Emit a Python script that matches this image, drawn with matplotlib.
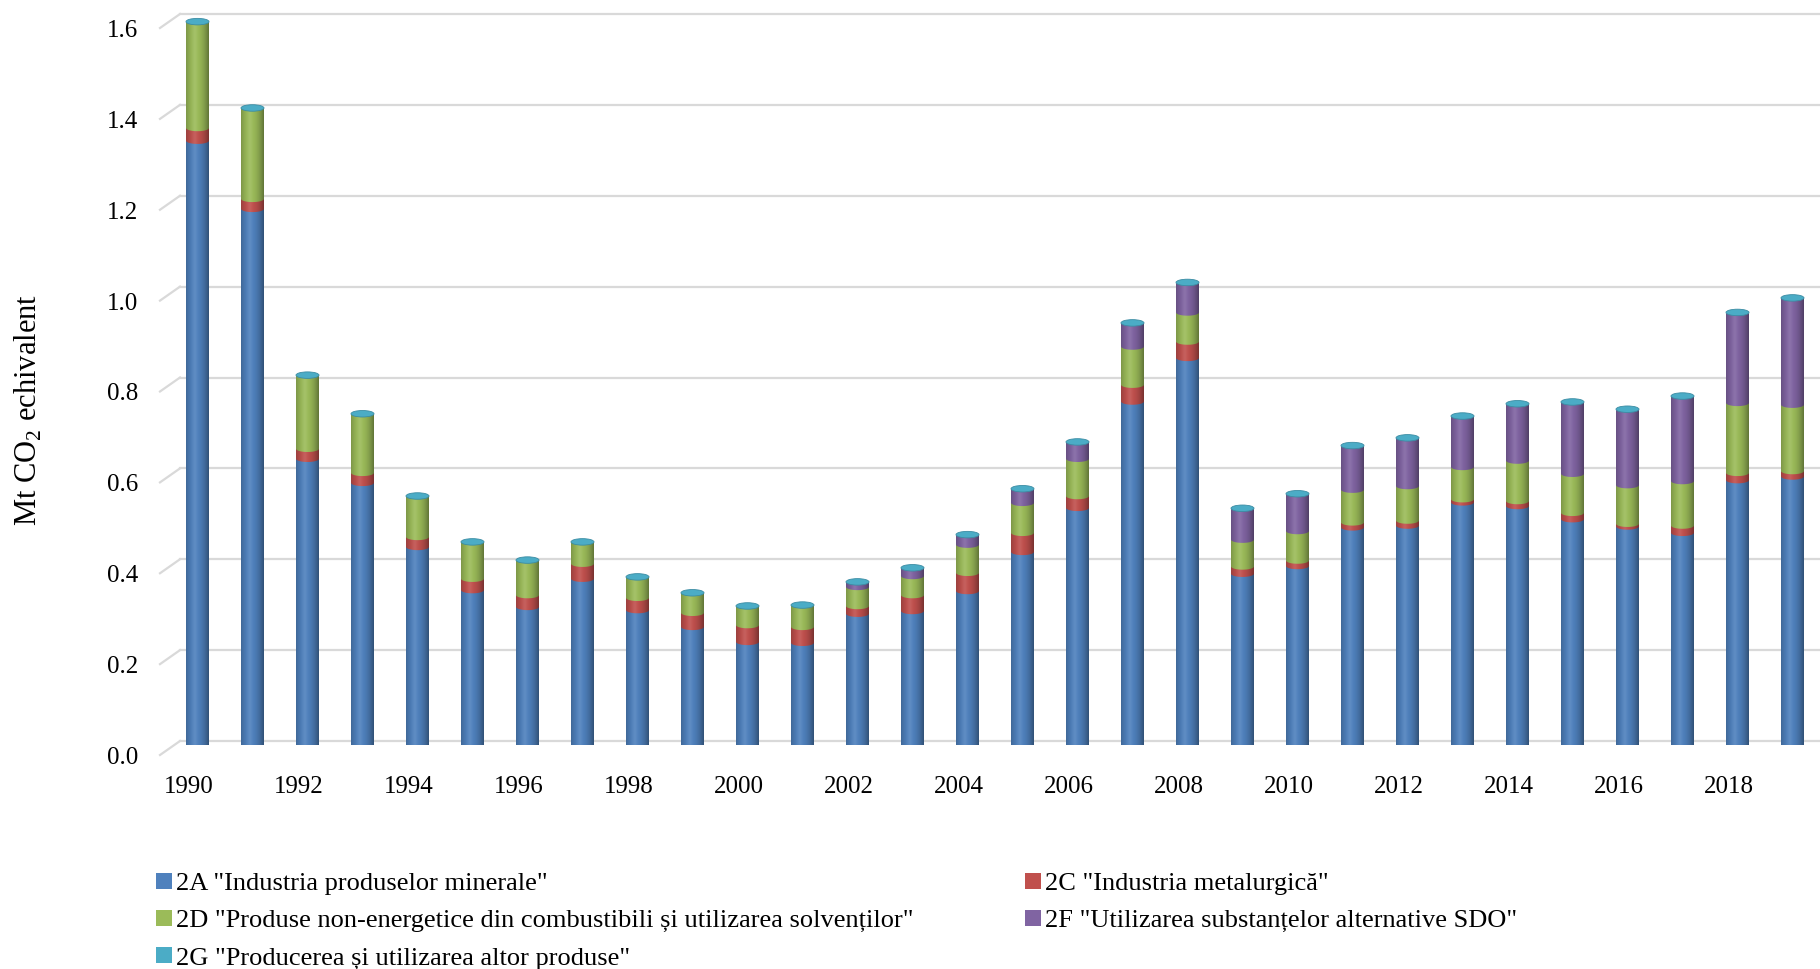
import numpy as np
import matplotlib
matplotlib.use("Agg")
import matplotlib.pyplot as plt
from matplotlib import transforms
from matplotlib.patches import Polygon, Ellipse, Patch
from matplotlib.lines import Line2D

plt.rcParams['font.family'] = ['Liberation Serif', 'DejaVu Serif']
plt.rcParams['mathtext.fontset'] = 'custom'
plt.rcParams['mathtext.rm'] = 'Liberation Serif'

# ---------------- data ----------------
years = list(range(1990, 2020))
s2A = [1.330, 1.180, 0.630, 0.577, 0.436, 0.341, 0.304, 0.366, 0.297, 0.260,
       0.227, 0.225, 0.289, 0.295, 0.339, 0.425, 0.522, 0.756, 0.852, 0.377,
       0.394, 0.479, 0.483, 0.534, 0.526, 0.497, 0.481, 0.467, 0.583, 0.591]
s2C = [0.028, 0.022, 0.022, 0.022, 0.022, 0.025, 0.026, 0.033, 0.027, 0.031,
       0.037, 0.035, 0.017, 0.035, 0.040, 0.042, 0.026, 0.037, 0.036, 0.016,
       0.012, 0.011, 0.011, 0.007, 0.011, 0.014, 0.006, 0.016, 0.016, 0.012]
s2D = [0.232, 0.198, 0.160, 0.128, 0.088, 0.079, 0.075, 0.046, 0.044, 0.042,
       0.040, 0.046, 0.042, 0.042, 0.062, 0.066, 0.082, 0.084, 0.064, 0.059,
       0.065, 0.072, 0.076, 0.071, 0.089, 0.086, 0.085, 0.098, 0.154, 0.146]
s2F = [0.000, 0.000, 0.000, 0.000, 0.000, 0.000, 0.000, 0.000, 0.000, 0.000,
       0.000, 0.000, 0.009, 0.016, 0.020, 0.029, 0.035, 0.050, 0.064, 0.067,
       0.080, 0.095, 0.104, 0.110, 0.123, 0.156, 0.165, 0.185, 0.197, 0.233]
s2G = [0.002, 0.002, 0.002, 0.002, 0.002, 0.002, 0.002, 0.002, 0.002, 0.002,
       0.002, 0.002, 0.002, 0.002, 0.002, 0.002, 0.002, 0.002, 0.002, 0.002,
       0.002, 0.002, 0.002, 0.002, 0.002, 0.002, 0.002, 0.002, 0.002, 0.002]

labels = ['2A "Industria produselor minerale"',
          '2C "Industria metalurgică"',
          '2D "Produse non-energetice din combustibili și utilizarea solvenților"',
          '2F "Utilizarea substanțelor alternative SDO"',
          '2G "Producerea și utilizarea altor produse"']
colors = ['#4F81BD', '#C0504D', '#9BBB59', '#8064A2', '#4BACC6']
series = [s2A, s2C, s2D, s2F, s2G]
yticks = [0.0, 0.2, 0.4, 0.6, 0.8, 1.0, 1.2, 1.4, 1.6]
xtick_years = list(range(1990, 2019, 2))

# ---------------- figure ----------------
W, H = 1820, 969
fig = plt.figure(figsize=(W / 100, H / 100), dpi=100)
ax_left, ax_right = 170, 1820
y0_px, y16_px = 745, 18
ax = fig.add_axes([ax_left / W, (H - y0_px) / H, (ax_right - ax_left) / W, (y0_px - y16_px) / H])
n = len(years)
ax.set_xlim(-0.5, n - 0.5)
ax.set_ylim(0, 1.6)
ax.axis('off')

px_per_unit = (y0_px - y16_px) / 1.6
bw = 23 / ((ax_right - ax_left) / n)   # bar width in data units
eh = 6.5 / px_per_unit                 # ellipse height in data units

blend = transforms.blended_transform_factory(ax.transAxes, ax.transData)
grid_tr = transforms.offset_copy(blend, fig=fig, x=0, y=4, units='dots')
dpx = 1.0 / (ax_right - ax_left)

# gridlines (back wall) + floor diagonals on the left side wall
for v in yticks:
    ax.add_line(Line2D([10 * dpx, 1.0], [v, v], transform=grid_tr, color='#D9D9D9',
                       lw=1.6, zorder=0, clip_on=False))
    p_back = grid_tr.transform((10 * dpx, v))
    p_front = blend.transform((-10 * dpx, v)) + np.array([0, -10])
    fig.add_artist(Line2D([p_back[0], p_front[0]], [p_back[1], p_front[1]],
                          transform=transforms.IdentityTransform(), color='#D9D9D9', lw=1.6,
                          zorder=0))

# y tick labels
lab_tr = transforms.offset_copy(blend, fig=fig, x=0, y=-13, units='dots')
for v in yticks:
    ax.text(-32 * dpx, v, f'{v:.1f}', transform=lab_tr, ha='right', va='center', fontsize=18)

# x tick labels
xl_tr = transforms.offset_copy(ax.transData, fig=fig, x=-9, y=-42, units='dots')
for yr in xtick_years:
    ax.text(years.index(yr), 0, str(yr), transform=xl_tr, ha='center', va='center', fontsize=18)


def seg_poly(xc, ya, yb, w, h, npts=40):
    th = np.linspace(np.pi, 2 * np.pi, npts)
    arc_x = xc + (w / 2) * np.cos(th)
    arc_y = ya + (h / 2) * np.sin(th)
    xs = np.concatenate([[xc - w / 2], arc_x, [xc + w / 2, xc + w / 2, xc - w / 2]])
    ys = np.concatenate([[yb], arc_y, [ya, yb, yb]])
    return np.column_stack([xs, ys])


# gradient for cylinder shading (overlay with varying alpha)
t = np.linspace(0, 1, 64)
alpha = 0.38 * ((t - 0.42) / 0.58) ** 2
hl = np.clip(1 - np.abs(t - 0.38) / 0.18, 0, 1) * 0.10
grad = np.zeros((2, 64, 4))
grad[..., :3] = (hl / np.maximum(alpha + hl, 1e-6))[None, :, None]
grad[..., 3] = (alpha + hl)[None, :]

for i in range(n):
    base = 0.0
    z = 2
    for k, s in enumerate(series[:4]):
        v = s[i]
        if v <= 0:
            continue
        poly = Polygon(seg_poly(i, base, base + v, bw, eh), closed=True, facecolor=colors[k],
                       edgecolor='none', zorder=z)
        ax.add_patch(poly)
        z += 0.01
        base += v
    total = base + s2G[i]
    outline = Polygon(seg_poly(i, 0, total, bw, eh), closed=True, facecolor='none',
                      edgecolor='none', zorder=3)
    ax.add_patch(outline)
    im = ax.imshow(grad, extent=[i - bw / 2, i + bw / 2, -eh, total], aspect='auto',
                   zorder=3, interpolation='bilinear')
    im.set_clip_path(outline)
    ax.add_patch(Ellipse((i, total), bw, eh, facecolor=colors[4], edgecolor='#3B8CA3',
                         lw=0.6, zorder=4, clip_on=False))

ax.set_xlim(-0.5, n - 0.5)
ax.set_ylim(0, 1.6)

# y axis title
fig.text(28 / W, 1 - 410 / H, 'Mt CO$_\\mathregular{2}$ echivalent', rotation=90,
         ha='center', va='center', fontsize=22)

# legend (two columns)
handles = [Patch(facecolor=c, edgecolor='none') for c in colors]
common = dict(frameon=False, fontsize=19, handlelength=0.6, handleheight=0.55,
              handletextpad=0.15, borderpad=0, borderaxespad=0, labelspacing=0.56,
              loc='upper left')
leg1 = fig.legend([handles[0], handles[2], handles[4]], [labels[0], labels[2], labels[4]],
                  bbox_to_anchor=(156 / W, 1 - 873 / H), **common)
leg2 = fig.legend([handles[1], handles[3]], [labels[1], labels[3]],
                  bbox_to_anchor=(1025 / W, 1 - 873 / H), **common)

fig.savefig('out.png', dpi=100)
